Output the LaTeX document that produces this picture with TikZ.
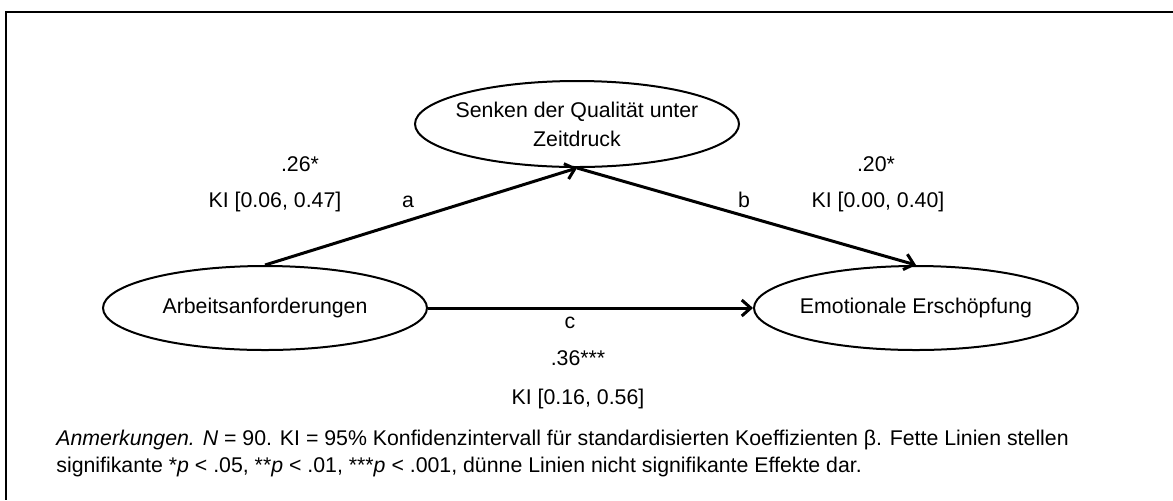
\documentclass[tikz,border=0pt]{standalone}
\usepackage{fontspec}
\setmainfont{Liberation Sans}
\usetikzlibrary{shapes.geometric,arrows.meta}
\begin{document}
\begin{tikzpicture}[x=0.5pt,y=-0.5pt,
  font=\fontsize{10.65}{14.5}\selectfont,
  construct/.style={draw,ellipse,line width=1pt,inner sep=0pt,
    minimum width=162pt,minimum height=42pt,
    label={[align=center,inner sep=0pt]center:#1}},
  path/.style={line width=1.5pt,-{Straight Barb[length=4.5pt,width=8pt]}},
  lbl/.style={anchor=base,inner sep=0pt},
  note/.style={anchor=base west,inner sep=0pt}]
\useasboundingbox (0,0) rectangle (1173,500);
% frame: top and left edge
\draw[line width=1pt] (1173,12) -- (6,12) -- (6,500);

% constructs (text set as a centre label so each ellipse keeps its size)
\node[construct={Senken der Qualität unter\\Zeitdruck},minimum height=43pt]
  (med) at (577,124) {};
\node[construct={Arbeitsanforderungen}] (x) at (265,308) {};
\node[construct={Emotionale Erschöpfung}] (y) at (916,308) {};

% paths
\draw[path] (x.north) -- (med.south);
\draw[path] (med.south) -- (y.north);
\draw[path] (x.east) -- (y.west);

% coefficients
\node[lbl] (ca) at (300,171) {.26*};
\node[lbl] (kia) at (275,207) {KI [0.06, 0.47]};
\node[lbl] (la) at (408,207) {a};
\node[lbl] (cb) at (876,171) {.20*};
\node[lbl] (kib) at (878,207) {KI [0.00, 0.40]};
\node[lbl] (lb) at (744,207) {b};
\node[lbl] (lc) at (570,328) {c};
\node[lbl] (cc) at (578,365) {.36***};
\node[lbl] (kic) at (578,404) {KI [0.16, 0.56]};

% note
\node[note] (n1) at (56,445) {\textit{Anmerkungen. N} = 90. KI = 95\% Konfidenzintervall für standardisierten Koeffizienten β. Fette Linien stellen};
\node[note] (n2) at (56,472) {signifikante *\textit{p} < .05, **\textit{p} < .01, ***\textit{p} < .001, dünne Linien nicht signifikante Effekte dar.};
\end{tikzpicture}
\end{document}
